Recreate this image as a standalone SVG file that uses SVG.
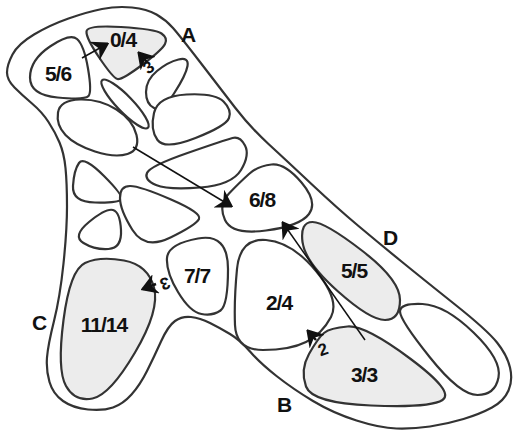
<svg xmlns="http://www.w3.org/2000/svg" width="515" height="431" viewBox="0 0 515 431">
<style>
.outline{fill:#fff;stroke:#333;stroke-width:2.2}
.bone{fill:#fff;stroke:#333;stroke-width:2.2}
.grey{fill:#ececec}
.lbl{font-family:"Liberation Sans",Arial,sans-serif;font-size:21px;font-weight:bold;letter-spacing:-1px;text-anchor:middle;fill:#111}
.num{font-family:"Liberation Sans",Arial,sans-serif;font-size:17px;font-weight:bold;text-anchor:middle;fill:#111}
.conn{fill:none;stroke:#111;stroke-width:1.5}
.short{fill:none;stroke:#111;stroke-width:2.5}
</style>
<defs>
<marker id="ah" viewBox="-15 -10 17 20" refX="0" refY="0" markerWidth="17" markerHeight="20" orient="auto" markerUnits="userSpaceOnUse">
<path d="M1,0 L-12,-8 L-8,0 L-12,8 Z" fill="#111" stroke="#111" stroke-width="1.8" stroke-linejoin="miter"/>
</marker>
</defs>
<g id="outline">
<path class="outline" d="M7,72.5 Q7,65 12.5,54.5 Q18,44 34,34.5 Q50,25 68.5,18.5 Q87,12 102,9 Q117,6 132,7.5 Q147,9 156.5,14.5 Q166,20 173,28 Q180,36 200,62 Q220,88 235,107.5 Q250,127 268.5,144 Q287,161 312,184.5 Q337,208 358.5,226 Q380,244 401.5,261.5 Q423,279 455,304.5 Q487,330 497,342.5 Q507,355 510,367.5 Q513,380 508.5,390.5 Q504,401 492,407.5 Q480,414 463.5,419 Q447,424 430,426.5 Q413,429 396.5,428.5 Q380,428 356.5,420.5 Q333,413 313,401 Q293,389 276.5,376 Q260,363 250,351.5 Q240,340 230,334 Q220,328 210,323 Q200,318 191,317 Q182,316 175,321 Q168,326 161,341.5 Q154,357 147,371 Q140,385 131.5,394.5 Q123,404 113,407.5 Q103,411 88,409.5 Q73,408 63,401 Q53,394 49.5,382 Q46,370 47,357.5 Q48,345 54,321 Q60,297 63.5,263.5 Q67,230 67,206.5 Q67,183 65.5,168 Q64,153 59.5,142.5 Q55,132 48.5,122 Q42,112 32,103.5 Q22,95 14.5,87.5 Q7,80 7,72.5 Z"/>
</g>
<g id="bone-5-6">
<path class="bone" d="M50,46.5 Q70,33 77,39 Q84,45 88,68.5 Q92,92 88.5,96 Q85,100 57.5,97.5 Q30,95 30,77.5 Q30,60 50,46.5 Z"/>
<text class="lbl" x="58" y="81">5/6</text>
</g>
<g id="bone-0-4">
<path class="bone grey" d="M121,27 Q155,29 161.5,33.5 Q168,38 165,44 Q162,50 142,65 Q122,80 117.5,79 Q113,78 99.5,58 Q86,38 86.5,31.5 Q87,25 121,27 Z"/>
<text class="lbl" x="123" y="47">0/4</text>
</g>
<g id="bone-thin">
<ellipse class="bone" cx="125" cy="104" rx="33" ry="8" transform="rotate(46 125 104)"/>
</g>
<g id="bone-teardrop">
<path class="bone" d="M178.5,59.5 Q189,57 187.5,66 Q186,75 174,93.5 Q162,112 154,108 Q146,104 146,92 Q146,80 157,71 Q168,62 178.5,59.5 Z"/>
</g>
<g id="bone-oval-left">
<path class="bone" d="M80,99.5 Q100,99 116.5,109.5 Q133,120 136.5,135 Q140,150 127.5,154 Q115,158 95,151.5 Q75,145 65.5,135 Q56,125 58,112.5 Q60,100 80,99.5 Z"/>
</g>
<g id="bone-oval-upper">
<path class="bone" d="M186.5,94.5 Q215,93 223.5,101.5 Q232,110 229,118 Q226,126 195.5,138 Q165,150 157.5,140 Q150,130 154,113 Q158,96 186.5,94.5 Z"/>
</g>
<g id="bone-elongated">
<path class="bone" d="M156,185 Q168,190 200,187.5 Q232,185 241,170 Q250,155 245,145.5 Q240,136 232.5,138 Q225,140 187.5,153 Q150,166 147,173 Q144,180 156,185 Z"/>
</g>
<g id="bone-6-8">
<path class="bone" d="M271.5,164.5 Q285,163 301.5,182.5 Q318,202 309,214 Q300,226 266,230.5 Q232,235 225,220 Q218,205 229,193.5 Q240,182 249,174 Q258,166 271.5,164.5 Z"/>
<text class="lbl" x="262" y="207">6/8</text>
</g>
<g id="bone-tri-1">
<path class="bone" d="M79,163 Q84,156 104,176 Q124,196 121,199.5 Q118,203 95,202.5 Q72,202 73,186 Q74,170 79,163 Z"/>
</g>
<g id="bone-tri-2">
<path class="bone" d="M89,222 Q106,208 113,210 Q120,212 121,230 Q122,248 108.5,249 Q95,250 83.5,243 Q72,236 89,222 Z"/>
</g>
<g id="bone-trapezoid">
<path class="bone" d="M130,186 Q140,186 171,199.5 Q202,213 199,219 Q196,225 170.5,237.5 Q145,250 132.5,230 Q120,210 120,198 Q120,186 130,186 Z"/>
</g>
<g id="bone-7-7">
<path class="bone" d="M198,238.5 Q228,233 228,269 Q228,305 220.5,310.5 Q213,316 201.5,314 Q190,312 178,292 Q166,272 167,258 Q168,244 198,238.5 Z"/>
<text class="lbl" x="197" y="283">7/7</text>
</g>
<g id="bone-11-14">
<path class="bone grey" d="M124,260.5 Q148,265 154,287.5 Q160,310 135,352.5 Q110,395 92.5,398.5 Q75,402 66,386 Q57,370 63.5,320 Q70,270 85,263 Q100,256 124,260.5 Z"/>
<text class="lbl" x="104" y="332">11/14</text>
</g>
<g id="bone-2-4">
<path class="bone" d="M266,240 Q292,242 316,271 Q340,300 331,317 Q322,334 306,342 Q290,350 263,350 Q236,350 235,325 Q234,300 237,269 Q240,238 266,240 Z"/>
<text class="lbl" x="279" y="310">2/4</text>
</g>
<g id="bone-5-5">
<path class="bone grey" d="M312.5,222 Q325,222 362.5,251 Q400,280 400,300 Q400,320 385,320 Q370,320 337.5,291 Q305,262 302.5,242 Q300,222 312.5,222 Z"/>
<text class="lbl" x="354" y="278">5/5</text>
</g>
<g id="bone-3-3">
<path class="bone grey" d="M347.5,326.5 Q365,325 410,358.5 Q455,392 442.5,400 Q430,408 371,405.5 Q312,403 306,386.5 Q300,370 309,354 Q318,338 324,333 Q330,328 347.5,326.5 Z"/>
<text class="lbl" x="364" y="382">3/3</text>
</g>
<g id="bone-oval-right">
<path class="bone" d="M422.5,304 Q445,305 473.5,332.5 Q502,360 498.5,377.5 Q495,395 477.5,395 Q460,395 430,357.5 Q400,320 400,311.5 Q400,303 422.5,304 Z"/>
</g>
<g id="region-labels">
<text class="lbl" x="188" y="42">A</text>
<text class="lbl" x="284" y="412">B</text>
<text class="lbl" x="39" y="330">C</text>
<text class="lbl" x="390" y="245">D</text>
</g>
<g id="connectors">
<path class="conn" d="M82,58 L107,44" marker-end="url(#ah)"/>
<path class="conn" d="M133,147 L231,206" marker-end="url(#ah)"/>
<path class="conn" d="M365,340 L283,223" marker-end="url(#ah)"/>
<path class="short" d="M147,62 L139,53" marker-end="url(#ah)"/>
<text class="num" x="0" y="0" transform="translate(152,72) rotate(-35)">3</text>
<path class="short" d="M156,284 L143,289" marker-end="url(#ah)"/>
<text class="num" x="0" y="0" transform="translate(163,278) rotate(160)">3</text>
<path class="short" d="M316,340 L308,331" marker-end="url(#ah)"/>
<text class="num" x="0" y="0" transform="translate(325,355) rotate(-20)">2</text>
</g>
</svg>
